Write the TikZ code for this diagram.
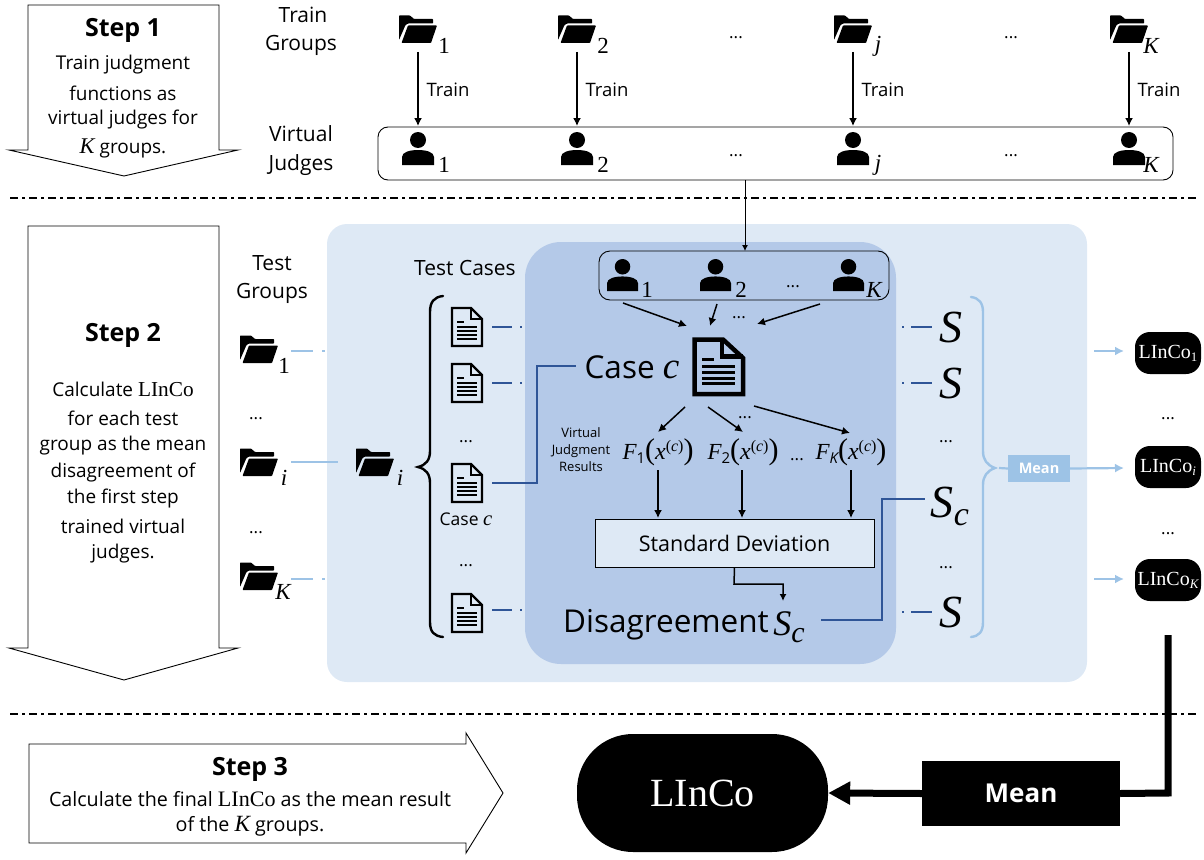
\documentclass[tikz,border=0pt]{standalone}
\usepackage{fontspec}
\setmainfont{Open Sans}
\newfontfamily\mth{Liberation Serif}
\usetikzlibrary{arrows.meta}
\definecolor{bgA}{HTML}{DEE9F5}
\definecolor{bgB}{HTML}{B4C9E8}
\definecolor{lblue}{HTML}{9DC3E6}
\definecolor{dblue}{HTML}{2F5597}
\newcommand{\fs}[1]{\fontsize{#1}{#1}\selectfont}
\newcommand{\mi}[1]{{\mth\itshape\addfontfeature{Scale=1.18} #1}}
\newcommand{\lnc}{{\mth\addfontfeature{Scale=1.12} LInCo}}
\newcommand{\sbx}[2]{\raisebox{-#1pt}{#2}}
\newcommand{\Fx}[1]{{\mth\itshape\fs{23}F}\sbx{4}{\fs{15}#1}{\mth\fs{30}(}{\mth\itshape\fs{24}x}\raisebox{8pt}{\mth\fs{16}({\itshape c})}{\mth\fs{30})}}
\newcommand{\Lin}[1]{\mth\fs{20}LInCo\sbx{3}{\fs{13}#1}}
\tikzset{
  x=1pt,y=-1pt,
  txt/.style={inner sep=0pt,font=\fs{19},align=center},
  lab/.style={inner sep=0pt,font=\fs{21},align=center},
  subn/.style={inner sep=0pt,font=\mth\fs{23}},
  subi/.style={inner sep=0pt,font=\mth\itshape\fs{23}},
  dots/.style={inner sep=0pt,font=\fs{17}},
  stepshape/.style={draw=black,fill=white,line width=0.9pt,line join=miter},
  sep/.style={line width=1.2pt,dash pattern=on 8pt off 4pt on 3pt off 4pt},
  arr/.style={draw=black,line width=1.5pt,-{Latex[length=8pt,width=8pt]}},
  larr/.style={draw=lblue,line width=2.2pt,-{Latex[length=9pt,width=9pt]}},
  lline/.style={draw=lblue,line width=2.2pt},
  dline/.style={draw=dblue,line width=1.6pt},
  blk/.style={fill=black,text=white,inner sep=0pt},
  folder/.pic={
    \fill[black,rounded corners=0.7pt] (0,0.5)--(11,0.5)--(15,4)--(34,4)--(34,8.5)--(9,8.5)--(6.5,10)--(0,25)--cycle;
    \fill[black,rounded corners=0.7pt] (9,10.5)--(38,10.5)--(32,28)--(2.5,28)--cycle;
  },
  person/.pic={
    \fill[black] (16,8) circle (8);
    \fill[black] (0,33)--(0,25) .. controls (0,20) and (8,18) .. (16,18) .. controls (24,18) and (32,20) .. (32,25)--(32,33)--cycle;
  },
  docicon/.pic={
    \draw[black,line width=2.4pt,miter limit=4] (20,1)--(31,12)--(31,39)--(1,39)--(1,1)--cycle;
    \draw[black,line width=2pt] (20,1)--(20,12)--(31,12);
    \foreach \yy/\xa in {15/13,20/26,24/26,28/26,32/26}
      \draw[black,line width=1.6pt] (6,\yy)--(\xa,\yy);
  },
}
\begin{document}
\begin{tikzpicture}
\useasboundingbox (0,0) rectangle (1204,859);
% separators
\coordinate (sa1) at (10,198); \coordinate (sa2) at (1197,198);
\coordinate (sb1) at (10,714); \coordinate (sb2) at (1197,714);
\draw[sep] (sa1)--(sa2);
\draw[sep] (sb1)--(sb2);
% step arrows
\draw[stepshape] (28,5)--(219,5)--(219,150)--(238,150)--(124,176)--(9,150)--(28,150)--cycle;
\draw[stepshape] (28,226)--(219,226)--(219,648)--(238,648)--(124,680)--(9,648)--(28,648)--cycle;
\draw[stepshape] (29,744)--(466,744)--(466,733)--(503,793)--(466,853)--(466,843)--(29,843)--cycle;
\node[txt,font=\bfseries\fs{25}] (st1) at (123,30) {Step 1};
\node[txt] (st1a) at (123,65) {Train judgment};
\node[txt] (st1b) at (123,93) {functions as};
\node[txt] (st1c) at (123,120) {virtual judges for};
\node[txt] (st1d) at (123,148) {\mi{K} groups.};
\node[txt,font=\bfseries\fs{25}] (st2) at (123,335) {Step 2};
\node[txt] (st2a) at (123,389) {Calculate \lnc};
\node[txt] (st2b) at (123,418) {for each test};
\node[txt] (st2c) at (123,446) {group as the mean};
\node[txt] (st2d) at (123,473) {disagreement of};
\node[txt] (st2e) at (123,499) {the first step};
\node[txt] (st2f) at (123,526) {trained virtual};
\node[txt] (st2g) at (123,554) {judges.};
\node[txt,font=\bfseries\fs{25}] (st3) at (250,769) {Step 3};
\node[txt,font=\fs{19.7}] (st3a) at (250,799) {Calculate the final \lnc{} as the mean result};
\node[txt,font=\fs{19.7}] (st3b) at (250,826) {of the \mi{K} groups.};
% top row
\node[lab] (tg1) at (303,15) {Train};
\node[lab] (tg2) at (301,45) {Groups};
\node[lab] (vj1) at (301,134) {Virtual};
\node[lab] (vj2) at (301,165) {Judges};
\node[draw=black,line width=0.9pt,rounded corners=10pt,minimum width=795pt,minimum height=53pt,inner sep=0pt] (jbox) at (775.5,153.5) {};
\foreach \xx/\nm/\st/\lab/\dx in {399/a/subn/1/45,558/b/subn/2/45,834/c/subi/j/44,1110/d/subi/K/41}{
  \pic at (\xx,15) {folder};
  \node[\st] (fs\nm) at (\xx+\dx,46) {\lab};
  \pic at (\xx+3,132) {person};
  \node[\st] (js\nm) at (\xx+\dx,165) {\lab};
  \coordinate (tf\nm) at (\xx+19,52);
  \coordinate (tj\nm) at (\xx+19,126);
  \draw[arr] (tf\nm)--(tj\nm);
  \node[txt,font=\fs{18.5}] (tr\nm) at (\xx+49,90) {Train};
}
\node[dots] (d1) at (736,38) {...};
\node[dots] (d2) at (1011,38) {...};
\node[dots] (d3) at (736,156) {...};
\node[dots] (d4) at (1011,156) {...};
% background panels
\fill[bgA,rounded corners=20pt] (327,224) rectangle (1087,682);
\fill[bgB,rounded corners=36pt] (525,242) rectangle (896,664);
% small judges
\node[draw=black,line width=0.9pt,rounded corners=11pt,minimum width=290pt,minimum height=49pt,inner sep=0pt] (sbox) at (744,275.5) {};
\coordinate (jdown) at (745,180);
\coordinate (jin) at (745,251);
\draw[draw=black,line width=0.9pt,-{Latex[length=6pt,width=6pt]}] (jdown)--(jin);
\foreach \xx/\nm/\st/\lab/\dx in {607/a/subn/1/40,700/b/subn/2/41,833/c/subi/K/41}{
  \pic[scale=0.97] at (\xx,259) {person};
  \node[\st] (ss\nm) at (\xx+\dx,290) {\lab};
}
\node[dots] (d5) at (793,287) {...};
% folders left
\pic at (240,335) {folder};
\pic at (240,448) {folder};
\pic at (240,562) {folder};
\pic at (356,448) {folder};
\node[lab] (tg3) at (272,263) {Test};
\node[lab] (tg4) at (272,293) {Groups};
\node[subn] (ls1) at (284,366) {1};
\node[subi] (lsi) at (284,478) {i};
\node[subi] (lsk) at (283,592) {K};
\node[subi] (csi) at (400,478) {i};
\node[dots] (d6) at (256,419) {...};
\node[dots] (d7) at (256,533) {...};
\coordinate (lf1) at (291,351); \coordinate (lf1e) at (313,351); \coordinate (lf1a) at (322,351); \coordinate (lf1b) at (325,351);
\coordinate (lfi) at (291,462); \coordinate (lfie) at (338,462);
\coordinate (lfk) at (291,579); \coordinate (lfke) at (313,579); \coordinate (lfka) at (322,579); \coordinate (lfkb) at (325,579);
\draw[lline] (lf1)--(lf1e); \draw[lline] (lf1a)--(lf1b);
\draw[lline] (lfi)--(lfie);
\draw[lline] (lfk)--(lfke); \draw[lline] (lfka)--(lfkb);
% left brace
\draw[black,line width=2.4pt,line cap=round] (443,296) .. controls (434,297) and (430,302) .. (430,312) -- (430,451) .. controls (430,460) and (426,465) .. (418,467) .. controls (426,469) and (430,474) .. (430,483) -- (430,622) .. controls (430,632) and (434,636) .. (443,637);
\node[lab] (tc) at (465,268) {Test Cases};
\pic at (451,307) {docicon};
\pic at (451,363) {docicon};
\pic at (451,463) {docicon};
\pic at (451,593) {docicon};
\node[dots] (d8) at (466,442) {...};
\node[dots] (d9) at (466,566) {...};
\node[txt,font=\fs{17.5}] (casec) at (466,519) {Case \mi{c}};
% doc dashes
\foreach \yy in {327,383}{
  \draw[dline] (492,\yy)--(512,\yy);
  \draw[dline] (520,\yy)--(522,\yy);
  \draw[dline] (902,\yy)--(904,\yy);
  \draw[dline] (911,\yy)--(932,\yy);
}
\draw[dline] (492,610)--(512,610);
\draw[dline] (520,610)--(522,610);
\draw[dline] (902,612)--(904,612);
\draw[dline] (911,612)--(932,612);
\coordinate (cc1) at (492,483); \coordinate (cc2) at (576,366);
\draw[dline] (cc1)--(537,483)--(537,366)--(cc2);
\coordinate (ds1) at (821,620); \coordinate (ds2) at (925,499);
\draw[dline] (ds1)--(882,620)--(882,499)--(ds2);
% case c
\node[txt,font=\fs{31.5}] (bcase) at (632,367) {Case \mi{c}};
\draw[black,line width=4.5pt,miter limit=4] (694.5,339.5)--(723,339.5)--(743,358)--(743,394)--(694.5,394)--cycle;
\draw[black,line width=4.5pt] (722,339.5)--(722,356.5)--(743,356.5);
\draw[black,line width=3pt] (702,359)--(714,359);
\foreach \yy in {366,372,378,383.5}
  \draw[black,line width=3pt] (702,\yy)--(735,\yy);
\coordinate (ua) at (623,303); \coordinate (uae) at (687,326);
\coordinate (ub) at (717,304); \coordinate (ube) at (710,326);
\coordinate (uc) at (820,304); \coordinate (uce) at (757,324);
\draw[arr] (ua)--(uae); \draw[arr] (ub)--(ube); \draw[arr] (uc)--(uce);
\node[dots] (d10) at (739,318) {...};
\coordinate (va) at (685,407); \coordinate (vae) at (658,432);
\coordinate (vb) at (708,407); \coordinate (vbe) at (743,432);
\coordinate (vc) at (754,406); \coordinate (vce) at (850,433);
\draw[arr] (va)--(vae); \draw[arr] (vb)--(vbe); \draw[arr] (vc)--(vce);
\node[dots] (d11) at (745,418) {...};
\node[txt,font=\fs{13}] (vjr) at (581,450) {Virtual\\[4pt]Judgment\\[4pt]Results};
\node[inner sep=0pt] (f1) at (658,452) {\Fx{1}};
\node[inner sep=0pt] (f2) at (743,452) {\Fx{2}};
\node[inner sep=0pt] (fk) at (851,452) {\Fx{{\itshape K}}};
\node[dots] (d12) at (797,460) {...};
\node[draw=black,line width=0.9pt,fill=bgA,minimum width=279pt,minimum height=48pt,inner sep=0pt,font=\fs{21.5}] (std) at (734.5,543) {\raisebox{-1pt}{Standard Deviation}};
\draw[arr] (658,470)--(658,518);
\draw[arr] (742,470)--(742,518);
\draw[arr] (851,470)--(851,518);
\draw[draw=black,line width=1.5pt,-{Latex[length=7pt,width=7pt]}] (std.south)--(734,584)--(783,584)--(783,601);
\node[txt,font=\fs{31.5}] (dis) at (666,625) {Disagreement};
\node[inner sep=0pt,font=\mth\itshape\fs{36}] (dsc) at (789,627) {S\sbx{7}{\fs{30}c}};
% S column
\node[inner sep=0pt,font=\mth\itshape\fs{46}] (s1) at (951,327) {S};
\node[inner sep=0pt,font=\mth\itshape\fs{46}] (s2) at (951,383) {S};
\node[inner sep=0pt,font=\mth\itshape\fs{46}] (sc) at (950,506) {S\sbx{8}{\fs{34}c}};
\node[inner sep=0pt,font=\mth\itshape\fs{46}] (s3) at (951,612) {S};
\node[dots] (d13) at (946,442) {...};
\node[dots] (d14) at (946,568) {...};
% right brace
\draw[lblue,line width=2.4pt,line cap=round] (971,297) .. controls (979,298) and (983,303) .. (983,312) -- (983,451) .. controls (983,460) and (987,465) .. (995,468) .. controls (987,471) and (983,476) .. (983,485) -- (983,622) .. controls (983,632) and (979,636) .. (971,637);
\coordinate (bt) at (999,468);
\node[fill=lblue,text=white,minimum width=62pt,minimum height=27pt,inner sep=0pt,font=\bfseries\fs{14.5}] (mn) at (1039,468.5) {Mean};
\draw[lline] (bt)--(mn.west);
\node[blk,rounded corners=15pt,minimum width=66pt,minimum height=42pt] (l1) at (1168,353) {\Lin{1}};
\node[blk,rounded corners=15pt,minimum width=66pt,minimum height=42pt] (li) at (1168,467) {\Lin{{\itshape i}}};
\node[blk,rounded corners=15pt,minimum width=66pt,minimum height=42pt] (lk) at (1168,580) {\Lin{{\itshape K}}};
\coordinate (ra) at (1094,351); \coordinate (rae) at (1124,351);
\coordinate (rk) at (1094,579); \coordinate (rke) at (1124,579);
\coordinate (rie) at (1124,468);
\draw[larr] (ra)--(rae);
\draw[larr] (rk)--(rke);
\draw[larr] (mn.east)--(rie);
\node[dots] (d15) at (1168,419) {...};
\node[dots] (d16) at (1168,534) {...};
% bottom
\node[blk,minimum width=198pt,minimum height=65pt,font=\bfseries\fs{26}] (bm) at (1021,793.5) {\raisebox{-2pt}{Mean}};
\node[blk,rounded corners=56pt,minimum width=251pt,minimum height=118pt,font=\mth\fs{40}] (bl) at (702.5,793) {LInCo};
\coordinate (th) at (1168,635);
\draw[black,line width=7pt,line join=miter] (th)--(1168,793)--(bm.east);
\draw[black,line width=7pt,-{Triangle[length=22pt,width=22pt]}] (bm.west)--(bl.east);
\end{tikzpicture}
\end{document}
